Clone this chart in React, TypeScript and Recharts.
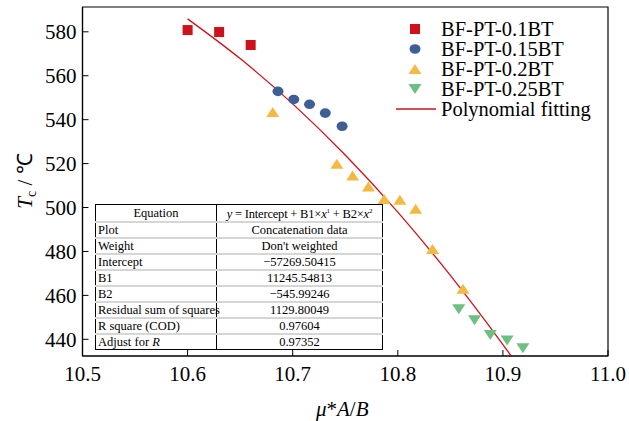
// Tc vs mu*A/B scatter with polynomial fit

import React from 'react';
import {
  ComposedChart,
  Scatter,
  Line,
  XAxis,
  YAxis,
  Legend,
  ReferenceArea,
} from 'recharts';

document.body.style.margin = '0';

const serif = '"Liberation Serif", "Times New Roman", Times, serif';

const RED = '#d0101a';
const BLUE = '#3e5f96';
const YELLOW = '#f4b942';
const GREEN = '#6dbf82';

// values
const bt01X = [10.6, 10.63, 10.66];
const bt01Y = [580.8, 579.9, 574.0];
const bt015X = [10.686, 10.701, 10.716, 10.731, 10.747];
const bt015Y = [552.9, 549.2, 547.0, 543.0, 537.0];
const bt02X = [10.681, 10.742, 10.757, 10.772, 10.787, 10.802, 10.817, 10.833, 10.862];
const bt02Y = [543.5, 519.9, 514.6, 509.6, 503.9, 503.5, 499.4, 481.1, 463.0];
const bt025X = [10.858, 10.873, 10.888, 10.904, 10.919];
const bt025Y = [453.7, 448.7, 442.0, 439.5, 435.9];
const fitX = [10.6, 10.65, 10.7, 10.75, 10.8, 10.85, 10.9, 10.912];
const fitY = [585.9, 567.8, 547.2, 523.9, 497.9, 469.1, 437.6, 429.7];

const xTicks = [10.5, 10.6, 10.7, 10.8, 10.9, 11.0];
const yTicks = [440, 460, 480, 500, 520, 540, 560, 580];

const tableRows = [
  ['Plot', 'Concatenation data'],
  ['Weight', "Don't weighted"],
  ['Intercept', '\u221257269.50415'],
  ['B1', '11245.54813'],
  ['B2', '\u2212545.99246'],
  ['Residual sum of squares', '1129.80049'],
  ['R square (COD)', '0.97604'],
];

const toPoints = (xs: number[], ys: number[]) => xs.map((x, i) => ({ x, y: ys[i] }));

const Square = (p: any) => <rect x={p.cx - 5} y={p.cy - 5} width={10} height={10} fill={RED} />;
const Dot = (p: any) => <ellipse cx={p.cx} cy={p.cy} rx={5.5} ry={4.8} fill={BLUE} />;
const TriUp = (p: any) => (
  <path d={`M${p.cx - 6.5},${p.cy + 5} L${p.cx + 6.5},${p.cy + 5} L${p.cx},${p.cy - 5} Z`} fill={YELLOW} />
);
const TriDown = (p: any) => (
  <path d={`M${p.cx - 6.5},${p.cy - 5} L${p.cx + 6.5},${p.cy - 5} L${p.cx},${p.cy + 5} Z`} fill={GREEN} />
);

const legendItems = [
  { name: 'BF-PT-0.1BT', icon: <rect x={15} y={5} width={10} height={10} fill={RED} /> },
  { name: 'BF-PT-0.15BT', icon: <ellipse cx={20} cy={10} rx={5.5} ry={4.8} fill={BLUE} /> },
  { name: 'BF-PT-0.2BT', icon: <path d="M13.5,15 L26.5,15 L20,5 Z" fill={YELLOW} /> },
  { name: 'BF-PT-0.25BT', icon: <path d="M13.5,5 L26.5,5 L20,15 Z" fill={GREEN} /> },
  { name: 'Polynomial fitting', icon: <line x1={1} x2={41} y1={10} y2={10} stroke={RED} strokeWidth={1.3} /> },
];

const renderLegend = () => (
  <div style={{ fontFamily: serif, fontSize: 20.5, lineHeight: '20px', color: '#000' }}>
    {legendItems.map((it) => (
      <div key={it.name} style={{ display: 'flex', alignItems: 'center', height: 20 }}>
        <svg width={42} height={20} style={{ flex: 'none' }}>{it.icon}</svg>
        <span style={{ marginLeft: 4, whiteSpace: 'nowrap' }}>{it.name}</span>
      </div>
    ))}
  </div>
);

const renderXLabel = (props: any) => {
  const vb = props.viewBox;
  return (
    <text x={vb.x + vb.width / 2 - 3} y={vb.y + 60} textAnchor="middle" fontFamily={serif} fontSize={21} fill="#000">
      <tspan fontStyle="italic">{'\u03bc'}</tspan>
      <tspan>*</tspan>
      <tspan fontStyle="italic">A</tspan>
      <tspan>/</tspan>
      <tspan fontStyle="italic">B</tspan>
    </text>
  );
};

const renderYLabel = () => (
  <text transform="translate(32,181) rotate(-90)" textAnchor="middle" fontFamily={serif} fontSize={21} fill="#000">
    <tspan fontStyle="italic">T</tspan>
    <tspan fontSize={14} dy={4}>c</tspan>
    <tspan dy={-4}>{'\u00a0/\u00a0\u2103'}</tspan>
  </text>
);

const cell: React.CSSProperties = {
  borderBottom: '2px solid #d6d6d6',
  padding: '0 2px',
  height: 14,
  whiteSpace: 'nowrap',
};

export default function App() {
  const tickStyle = { fill: '#000', fontSize: 21, fontFamily: serif };
  return (
    <div style={{ position: 'relative', width: 629, height: 421, background: '#fff' }}>
      <ComposedChart width={629} height={421} margin={{ top: 7, right: 21, bottom: 0, left: 0 }}>
        <ReferenceArea x1={10.5} x2={11} y1={432.4} y2={591.3} fill="none" stroke="#000" strokeWidth={1.2} />
        <XAxis
          type="number"
          dataKey="x"
          domain={[10.5, 11]}
          ticks={xTicks}
          interval={0}
          allowDataOverflow
          tickFormatter={(v) => v.toFixed(1)}
          height={65}
          tickSize={-6}
          tickMargin={16}
          tick={tickStyle}
          axisLine={{ stroke: '#000', strokeWidth: 1.2 }}
          tickLine={{ stroke: '#000' }}
          label={{ content: renderXLabel }}
        />
        <YAxis
          type="number"
          dataKey="y"
          domain={[432.4, 591.3]}
          ticks={yTicks}
          interval={0}
          allowDataOverflow
          width={82.5}
          tickSize={-6}
          tickMargin={12}
          tick={tickStyle}
          axisLine={{ stroke: '#000', strokeWidth: 1.2 }}
          tickLine={{ stroke: '#000' }}
          label={{ content: renderYLabel }}
        />
        <Legend
          layout="vertical"
          verticalAlign="middle"
          align="center"
          content={renderLegend}
          wrapperStyle={{ top: 19, left: 395, width: 'auto', height: 'auto' }}
        />
        <Line
          data={toPoints(fitX, fitY)}
          dataKey="y"
          type="monotone"
          stroke={RED}
          strokeWidth={1.3}
          dot={false}
          activeDot={false}
          isAnimationActive={false}
        />
        <Scatter data={toPoints(bt01X, bt01Y)} dataKey="y" shape={Square} isAnimationActive={false} />
        <Scatter data={toPoints(bt015X, bt015Y)} dataKey="y" shape={Dot} isAnimationActive={false} />
        <Scatter data={toPoints(bt02X, bt02Y)} dataKey="y" shape={TriUp} isAnimationActive={false} />
        <Scatter data={toPoints(bt025X, bt025Y)} dataKey="y" shape={TriDown} isAnimationActive={false} />
      </ComposedChart>
      <table
        style={{
          position: 'absolute',
          left: 95,
          top: 204,
          width: 287,
          height: 144,
          borderCollapse: 'collapse',
          border: '1.5px solid #000',
          fontFamily: serif,
          fontSize: 12.5,
          lineHeight: '13px',
          color: '#000',
          background: '#fff',
          tableLayout: 'fixed',
        }}
      >
        <colgroup>
          <col style={{ width: 121 }} />
          <col style={{ width: 166 }} />
        </colgroup>
        <tbody>
          <tr>
            <td style={{ ...cell, textAlign: 'center', borderRight: '1px solid #000' }}>Equation</td>
            <td style={{ ...cell, textAlign: 'center', letterSpacing: -0.2 }}>
              <i>y</i> = Intercept + B1×<i>x</i>
              <sup style={{ fontSize: 7 }}>1</sup> + B2×<i>x</i>
              <sup style={{ fontSize: 7 }}>2</sup>
            </td>
          </tr>
          {tableRows.map(([k, v]) => (
            <tr key={k}>
              <td style={{ ...cell, borderRight: '1px solid #000' }}>{k}</td>
              <td style={{ ...cell, textAlign: 'center' }}>{v}</td>
            </tr>
          ))}
          <tr>
            <td style={{ ...cell, borderBottom: 'none', borderRight: '1px solid #000' }}>
              Adjust for <i>R</i>
            </td>
            <td style={{ ...cell, borderBottom: 'none', textAlign: 'center' }}>0.97352</td>
          </tr>
        </tbody>
      </table>
    </div>
  );
}
